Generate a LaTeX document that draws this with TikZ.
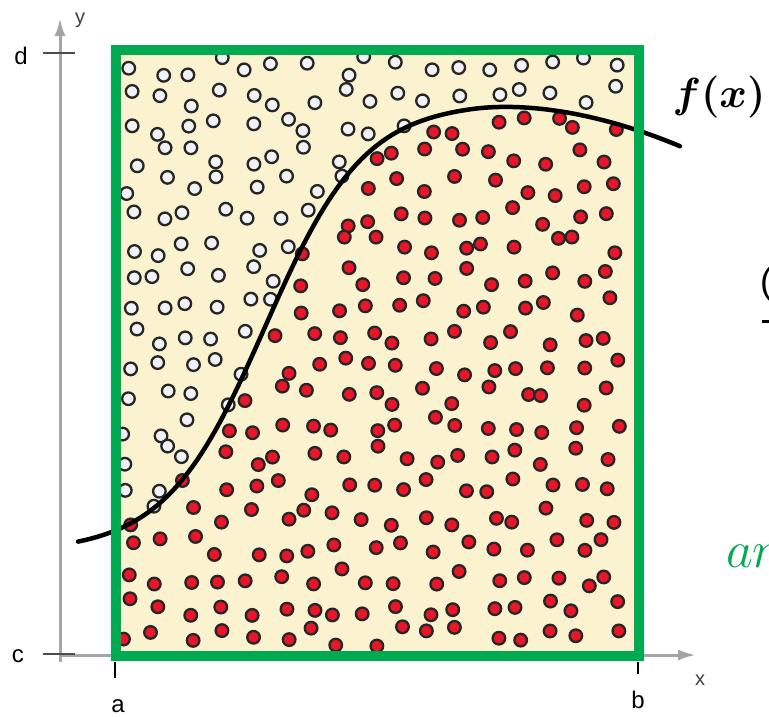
\RequirePackage{fix-cm}
\documentclass[tikz,border=0pt]{standalone}
\usepackage{fontspec}
\setmainfont{Liberation Sans}
\usepackage{tikz}
\usetikzlibrary{arrows.meta}

\definecolor{framegreen}{RGB}{0,170,80}
\definecolor{paper}{RGB}{251,242,208}
\definecolor{dotred}{RGB}{232,22,40}
\definecolor{dotwhite}{RGB}{240,242,246}
\definecolor{axisgray}{RGB}{165,165,165}

\begin{document}
\begin{tikzpicture}[
  x=1pt, y=-1pt,
  declare function={fcurve(\t)=102+450/(1+exp((\t-265)/50))+(\t>470)*0.1*((\t-470)/10)^2;},
  axis/.style={axisgray, line width=3pt, -{Latex[length=18pt,width=11pt]}},
  tick/.style={line width=2.5pt},
  lbl/.style={inner sep=0pt, font=\fontsize{24}{24}\selectfont},
  thinlbl/.style={inner sep=0pt, text=black!75, font=\fontsize{20}{20}\selectfont},
  reddot/.style={fill=dotred, draw=black!85, line width=2.3pt},
  whitedot/.style={fill=dotwhite, draw=black!85, line width=2.3pt},
  frame/.style={draw=framegreen, line width=10pt},
  curve/.style={line width=4.5pt, line cap=round}
]
  \useasboundingbox (0,0) rectangle (769,716);

  % axes
  \coordinate (O) at (60,655);
  \coordinate (xend) at (696,655);
  \coordinate (yend) at (60,18);
  \draw[axis] (60,662) -- (yend);
  \draw[axis] (O) -- (xend);
  \draw[tick, black!70] (43,53) -- (75,53);
  \draw[tick, black!70] (43,654) -- (75,654);
  \draw[tick] (115,662) -- (115,678);
  \draw[tick] (638,662) -- (638,674);

  \node[lbl] (d) at (21,56) {d};
  \node[lbl] (c) at (18,656) {c};
  \node[lbl] (a) at (118,706) {a};
  \node[lbl] (b) at (638,700) {b};
  \node[thinlbl] (xl) at (700,680) {x};
  \node[thinlbl] (yl) at (80,20) {y};

  % sampling area
  \fill[paper] (116,50) rectangle (639,656);
  \pgfmathsetseed{7}
  \foreach \i in {0,...,16}{
    \foreach \j in {0,...,19}{
      \pgfmathsetmacro\px{130+30*\i+10*rand}
      \pgfmathsetmacro\py{66+30*\j+10*rand}
      \pgfmathsetmacro\fy{fcurve(\px)}
      \ifdim\py pt>\fy pt \def\dotkind{reddot}\else\def\dotkind{whitedot}\fi
      \path[\dotkind] (\px,\py) circle[radius=6.3];
    }
  }
  \draw[curve] plot[domain=78:680, samples=90, smooth] (\x,{fcurve(\x)});
  \draw[frame] (116,50) rectangle (639,656);

  \node[inner sep=0pt, font=\fontsize{42}{42}\selectfont\boldmath] (fx) at (719,97) {$f(x)$};

  % cut-off text at the right edge
  \node[anchor=west, inner sep=0pt, font=\fontsize{36}{36}\selectfont] (paren) at (760,284) {(};
  \coordinate (barr) at (769,321);
  \draw[line width=3pt] (762,321) -- (barr);
  \node[anchor=base west, inner sep=0pt, text=framegreen, font=\fontsize{52}{52}\selectfont] (an) at (726,567) {$an$};
\end{tikzpicture}
\end{document}
